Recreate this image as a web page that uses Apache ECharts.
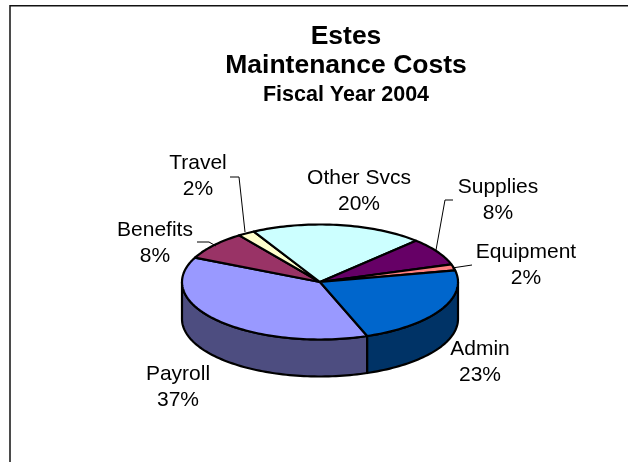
<!DOCTYPE html>
<html><head><meta charset="utf-8">
<style>html,body{margin:0;padding:0;background:#fff}#c{width:628px;height:462px}</style>
<script src="https://cdn.jsdelivr.net/npm/echarts@6/dist/echarts.min.js"></script>
</head><body><div id="c"></div>
<script>
const categories = ['Payroll','Benefits','Travel','Other Svcs','Supplies','Equipment','Admin'];
const costShare = [37.5,8.1,2.0,20.2,7.8,1.7,22.7];
const shareLabels = ['37%','8%','2%','20%','8%','2%','23%'];
const topColors = ['#9999FF','#993366','#FFFFCC','#CCFFFF','#660066','#FF8080','#0066CC'];
const sideColors = ['#4D4D80','#4D1A33','#808066','#668080','#330033','#804040','#003366'];
const labelCenters = [[178,387],[155,243],[198,176],[359,191],[498,200],[526,265],[480,362]];
const leaders = [null,[[197,242],[209,242],[216,246]],[[230,177],[239,177],[245,232]],null,[[453,200],[445,200],[436,250]],[[472,265],[452,268]],null];

const CX=320, CY=282, RX=138, RY=57.5, DEPTH=37, START=-70;
const total = costShare.reduce((a,b)=>a+b,0);
const LINE = 2.2;

function pt(t,dy){const r=t*Math.PI/180;return [CX+RX*Math.cos(r),CY-RY*Math.sin(r)+(dy||0)];}
function arc(a,b,dy){const n=Math.max(2,Math.ceil(Math.abs(b-a)/1.5));const o=[];for(let i=0;i<=n;i++)o.push(pt(a+(b-a)*i/n,dy));return o;}
function sideRange(a,b){
  const out=[];
  for(let k=-3;k<=1;k++){const lo=180+360*k,hi=360+360*k;const s=Math.min(a,hi),e=Math.max(b,lo);if(s>e)out.push([s,e]);}
  return out;
}
function renderItem(params,api){
  const i=api.value(0), v=api.value(1);
  let before=0; for(let k=0;k<i;k++) before+=costShare[k];
  const a=START-before/total*360, b=a-v/total*360;
  const children=[];
  sideRange(a,b).forEach(([s,e])=>{
    children.push({type:'polygon',shape:{points:arc(s,e,0).concat(arc(e,s,DEPTH))},
      style:{fill:sideColors[i],stroke:'#000',lineWidth:LINE,lineJoin:'round'}});
  });
  children.push({type:'polygon',shape:{points:[[CX,CY]].concat(arc(a,b,0))},
    style:{fill:topColors[i],stroke:'#000',lineWidth:LINE,lineJoin:'round'}});
  if(leaders[i]) children.push({type:'polyline',shape:{points:leaders[i]},style:{fill:null,stroke:'#000',lineWidth:1}});
  const c=labelCenters[i];
  children.push({type:'text',x:c[0],y:c[1],style:{text:categories[i]+'\n'+shareLabels[i],
    font:'21px "Liberation Sans"',lineHeight:26,fill:'#000',align:'center',verticalAlign:'middle'}});
  return {type:'group',children};
}
const chart=echarts.init(document.getElementById('c'),null,{renderer:'canvas'});
const titleStyle={fontFamily:'Liberation Sans',fontWeight:'bold',color:'#000'};
chart.setOption({
  animation:false,
  backgroundColor:'#fff',
  graphic:[{type:'polyline',silent:true,shape:{points:[[10,462],[10,5.7],[628,5.7]]},style:{fill:null,stroke:'#111',lineWidth:1.5}}],
  title:[
    {text:'Estes',left:341,textAlign:'center',top:18,textStyle:{...titleStyle,fontSize:26.5}},
    {text:'Maintenance Costs',left:341,textAlign:'center',top:47,textStyle:{...titleStyle,fontSize:26.5}},
    {text:'Fiscal Year 2004',left:341,textAlign:'center',top:79,textStyle:{...titleStyle,fontSize:21.5}}
  ],
  series:[{type:'custom',coordinateSystem:'none',renderItem,data:costShare.map((v,i)=>[i,v]),silent:true}]
});
</script></body></html>
